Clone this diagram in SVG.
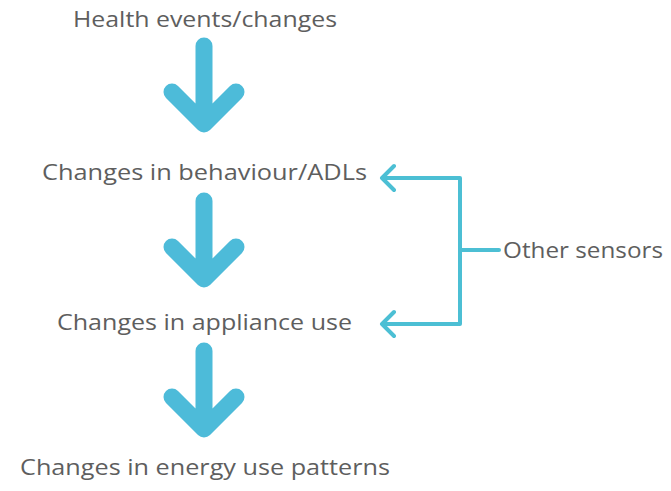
<svg xmlns="http://www.w3.org/2000/svg" width="671" height="491" viewBox="0 0 671 491">
<defs>
<style>
.t{font-family:"Open Sans","Liberation Sans",sans-serif;font-size:21px;fill:#5e5e5e}
.big{fill:none;stroke:#4dbbd9;stroke-width:17;stroke-linecap:round;stroke-linejoin:round}
.thin{fill:none;stroke:#4cbfd4;stroke-width:4;stroke-linecap:round;stroke-linejoin:round}
</style>
<g id="bigArrow"><path class="big" d="M204,46 V124 M172,92 L204,124 L236,92"/></g>
</defs>
<rect width="671" height="491" fill="#fff"/>
<g id="connectors">
<use href="#bigArrow"/>
<use href="#bigArrow" y="155"/>
<use href="#bigArrow" y="305"/>
<path class="thin" d="M383,178 H460 V324 H383 M394,166 L382,178 L394,190 M394,312 L382,324 L394,336 M460,250 H499"/>
</g>
<g id="n1"><text class="t" x="73" y="27" textLength="264" lengthAdjust="spacingAndGlyphs">Health events/changes</text></g>
<g id="n2"><text class="t" x="42" y="180" textLength="325" lengthAdjust="spacingAndGlyphs">Changes in behaviour/ADLs</text></g>
<g id="n3"><text class="t" x="57" y="330" textLength="295" lengthAdjust="spacingAndGlyphs">Changes in appliance use</text></g>
<g id="n4"><text class="t" x="20" y="475" textLength="370" lengthAdjust="spacingAndGlyphs">Changes in energy use patterns</text></g>
<g id="n5"><text class="t" x="503" y="258" textLength="160" lengthAdjust="spacingAndGlyphs">Other sensors</text></g>
</svg>
